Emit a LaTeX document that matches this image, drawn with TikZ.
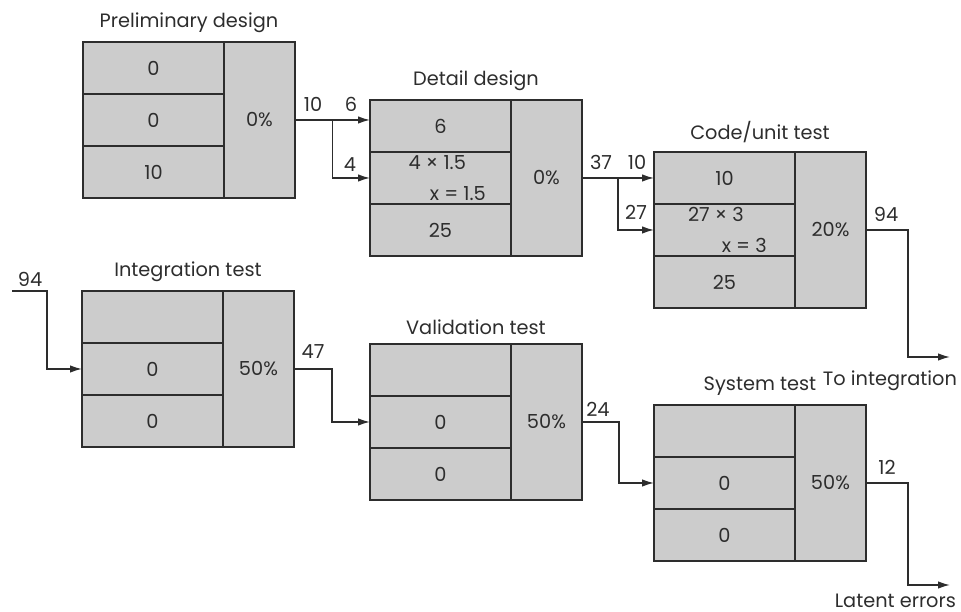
\documentclass[tikz,border=0pt]{standalone}
\usepackage{fontspec}
\setmainfont{Poppins}
\usetikzlibrary{arrows.meta, positioning, calc}
\definecolor{boxgray}{RGB}{204,204,204}
\definecolor{inkgray}{RGB}{45,45,45}

\begin{document}
\begin{tikzpicture}[
    x=0.02cm, y=-0.02cm,
    every node/.style={font=\fontsize{11}{13}\selectfont, text=inkgray},
    cell/.style={rectangle, fill=boxgray, minimum width=2.82cm, minimum height=1.04cm, inner sep=0pt, outer sep=0pt, align=center},
    pct/.style={cell, minimum width=1.42cm, minimum height=3.12cm},
    edge/.style={draw=inkgray, line width=1.1pt},
    title/.style={inner sep=1pt},
    num/.style={inner sep=1pt},
    flow/.style={-{Latex[length=2.4mm, width=1.5mm]}, line width=0.8pt, draw=inkgray}
]
\useasboundingbox (0,0) rectangle (961,612);

% ============ PRELIMINARY DESIGN ============
\node[cell, anchor=north west] (pre1) at (83,42) {0};
\node[cell, below=0pt of pre1] (pre2) {0};
\node[cell, below=0pt of pre2] (pre3) {10};
\node[pct, right=0pt of pre2] (prep) {0\%};
\node[title, above=4pt] (pretitle) at ($(pre1.north west)!0.5!(prep.north east)$) {Preliminary design};

% ============ DETAIL DESIGN ============
\node[cell, anchor=north west] (det1) at (370,100) {6};
\node[cell, below=0pt of det1, align=left] (det2) {\hspace*{0.7em}4 × 1.5\\[5pt]\hspace*{1.8em}x = 1.5};
\node[cell, below=0pt of det2] (det3) {25};
\node[pct, right=0pt of det2] (detp) {0\%};
\node[title, above=4pt] (dettitle) at ($(det1.north west)!0.5!(detp.north east)$) {Detail design};

% ============ CODE/UNIT TEST ============
\node[cell, anchor=north west] (code1) at (654,152) {10};
\node[cell, below=0pt of code1, align=left] (code2) {\hspace*{0.3em}27 × 3\\[5pt]\hspace*{2.05em}x = 3};
\node[cell, below=0pt of code2] (code3) {25};
\node[pct, right=0pt of code2] (codep) {20\%};
\node[title, above=4pt] (codetitle) at ($(code1.north west)!0.5!(codep.north east)$) {Code/unit test};

% ============ INTEGRATION TEST ============
\node[cell, anchor=north west] (int1) at (82,291) {};
\node[cell, below=0pt of int1] (int2) {0};
\node[cell, below=0pt of int2] (int3) {0};
\node[pct, right=0pt of int2] (intp) {50\%};
\node[title, above=4pt] (inttitle) at ($(int1.north west)!0.5!(intp.north east)$) {Integration test};

% ============ VALIDATION TEST ============
\node[cell, anchor=north west] (val1) at (370,344) {};
\node[cell, below=0pt of val1] (val2) {0};
\node[cell, below=0pt of val2] (val3) {0};
\node[pct, right=0pt of val2] (valp) {50\%};
\node[title, above=4pt] (valtitle) at ($(val1.north west)!0.5!(valp.north east)$) {Validation test};

% ============ SYSTEM TEST ============
\node[cell, anchor=north west] (sys1) at (654,405) {};
\node[cell, below=0pt of sys1] (sys2) {0};
\node[cell, below=0pt of sys2] (sys3) {0};
\node[pct, right=0pt of sys2] (sysp) {50\%};
\node[title, above=4pt] (systitle) at ($(sys1.north west)!0.5!(sysp.north east)$) {System test};

% Cell borders
\foreach \n in {pre1,pre2,pre3,prep,det1,det2,det3,detp,code1,code2,code3,codep,
                int1,int2,int3,intp,val1,val2,val3,valp,sys1,sys2,sys3,sysp}
    \draw[edge] (\n.north west) rectangle (\n.south east);

% ============ ERROR FLOWS ============
% Preliminary -> Detail
\draw[flow] (prep.east) -- (prep.east -| det1.west);
\coordinate (split1) at ($(prep.east)!0.5!(prep.east -| det1.west)$);
\draw[flow] (split1) |- (det2.west);
\node[num] (preout) at (313,104) {10};
\node[num] (detin1) at (351,104) {6};
\node[num] (detin2) at (350,165) {4};

% Detail -> Code/unit
\draw[flow] (detp.east) -- (detp.east -| code1.west);
\coordinate (split2) at ($(detp.east)!0.5!(detp.east -| code1.west)$);
\draw[flow] (split2) |- (code2.west);
\node[num] (detout) at (601,162) {37};
\node[num] (codein1) at (637,162) {10};
\node[num] (codein2) at (636,212) {27};

% Code/unit -> integration
\coordinate (toint) at (950,357);
\draw[flow] (codep.east) -- ++(42,0) |- (toint);
\node[num] (codeout) at (886,214) {94};
\node[num, anchor=east] (tointlabel) at (959,381) {To integration};

% Into integration
\coordinate (intin) at (12,291);
\draw[flow] (intin) -- ++(35,0) |- (int2.west);
\node[num] (intinlabel) at (30,279) {94};

% Integration -> Validation
\draw[flow] (intp.east) -- ++(38,0) |- (val2.west);
\node[num] (intout) at (313,352) {47};

% Validation -> System
\draw[flow] (valp.east) -- ++(37,0) |- (sys2.west);
\node[num] (valout) at (598,409) {24};

% System -> latent errors
\coordinate (latent) at (950,585);
\draw[flow] (sysp.east) -- ++(42,0) |- (latent);
\node[num] (sysout) at (887,467) {12};
\node[num, anchor=east] (latentlabel) at (958,601) {Latent errors};

\end{tikzpicture}
\end{document}
